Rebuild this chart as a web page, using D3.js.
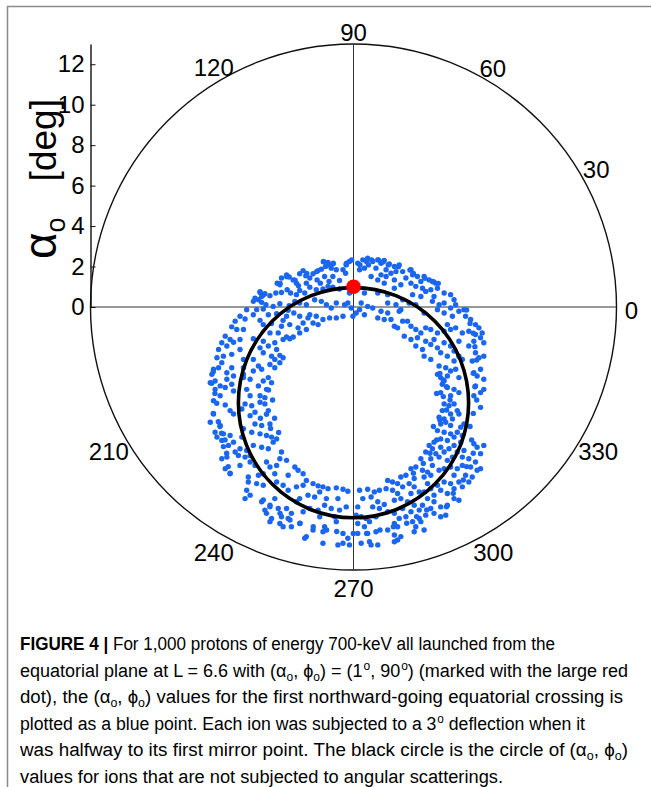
<!DOCTYPE html>
<html lang="en">
<head>
<meta charset="UTF-8">
<title>Figure 4</title>
<script src="https://cdn.jsdelivr.net/npm/d3@7"></script>
<style>
  body { margin: 0; background: #fff; }
  svg text { font-family: "Liberation Sans", Arial, sans-serif; fill: #000; }
</style>
</head>
<body>
<script>
// radial axis: alpha_o in degrees
var alphaMax = 13;
var alphaMajor = [0, 2, 4, 6, 8, 10, 12];
var alphaMinorStep = 0.5;
// azimuth labels phi_o (150 and 180 are hidden behind the axis in the original)
var angleLabels = [0, 30, 60, 90, 120, 210, 240, 270, 300, 330];

// launch point (large red dot)
var launch = { alpha: 1, phi: 90 };
// circle of unscattered ions: centre (x, y) and radius, in deg
var ring = { x: 0, y: -4.73, r: 5.69 };

// scattered ions, [alpha*cos(phi), alpha*sin(phi)] in deg
var ptsNW = [
  [-1.48,2.25],[-1.26,2.20],[-1.02,2.13],[-0.36,2.13],[-1.38,2.00],[-1.59,1.87],[-1.10,1.92],[-1.75,1.80],[-0.85,1.84],[-0.52,1.84],[-0.39,1.67],
  [-3.31,1.59],[-3.56,1.43],[-3.18,1.48],[-2.98,1.34],[-2.82,1.18],[-2.66,1.64],[-2.49,1.80],[-2.36,1.54],[-2.16,1.43],[-2.00,1.64],[-1.80,1.34],
  [-1.64,1.18],[-1.43,1.51],[-1.21,1.26],[-1.02,1.51],[-0.69,1.31],[-3.77,1.18],[-3.64,1.10],[-2.72,1.05],[-2.33,1.18],
  [-4.62,0.72],[-4.38,0.66],[-4.13,0.56],[-4.54,0.52],[-3.84,0.69],[-3.56,0.72],[-3.28,0.85],[-3.11,0.69],[-2.66,0.82],[-2.41,0.69],[-2.16,0.98],
  [-1.84,0.85],[-1.51,0.89],[-1.26,1.02],[-1.02,0.98],[-0.69,0.89],[-4.87,0.44],[-4.70,0.36],[-2.82,0.61],
  [-4.95,0.28],[-4.54,0.23],[-4.33,0.11],[-3.97,0.03],[-3.64,0.16],[-3.18,0.07],[-2.90,0.28],[-2.66,0.20],[-2.33,0.11],[-1.92,0.36],[-1.59,0.28],
  [-1.34,0.11],[-1.10,-0.05],[-0.85,0.20],[-0.44,0.11],[-5.28,-0.13],[-4.79,-0.13],[-4.46,-0.10],[-3.23,-0.16],
  [-5.61,-0.46],[-5.85,-0.70],[-5.36,-0.59],[-4.95,-0.38],[-4.21,-0.38],[-3.80,-0.33],[-3.31,-0.46],[-2.95,-0.30],[-2.66,-0.46],[-2.16,-0.38],
  [-1.84,-0.46],[-1.51,-0.62],[-1.18,-0.54],[-0.85,-0.54],[-0.52,-0.46],[-2.25,-0.54],[-4.62,-0.66],[-3.48,-0.66],
  [-6.02,-0.98],[-5.77,-1.11],[-5.44,-1.11],[-4.46,-0.87],[-4.05,-0.82],[-3.56,-0.95],[-3.15,-0.87],[-2.74,-1.03],[-2.49,-0.79],[-2.00,-0.79],
  [-1.75,-0.87],[-4.13,-1.28],[-3.72,-1.28],[-3.31,-1.48],[-2.98,-1.48],[-2.66,-1.28],[-2.33,-1.11],[-6.34,-1.44],[-6.10,-1.61],
  [-6.51,-1.77],[-6.26,-1.93],[-5.93,-1.74],[-5.61,-1.61],[-4.95,-1.57],[-4.46,-1.69],[-4.21,-1.93],[-3.89,-1.77],[-3.48,-1.61],[-3.15,-1.57],
  [-3.80,-2.10],[-6.67,-2.10],[-5.61,-2.10],[-4.62,-2.02],
  [-6.75,-2.51],[-6.43,-2.43],[-6.02,-2.34],[-6.51,-2.75],[-4.46,-2.26],[-4.05,-2.43],[-3.64,-2.39],[-3.89,-2.59],[-3.48,-2.51],[-4.95,-2.59],[-5.44,-2.59],
  [-6.92,-3.08],[-6.67,-3.00],[-7.00,-3.33],[-6.02,-3.00],[-5.44,-3.00],[-4.70,-2.92],[-4.54,-3.08],[-4.13,-2.84],[-3.89,-3.00],[-3.64,-2.75],
  [-4.95,-3.16],[-6.26,-3.25],[-5.93,-3.41],[-5.44,-3.33],
  [-7.08,-3.74],[-6.84,-3.66],[-6.59,-3.90],[-6.26,-3.57],[-6.02,-3.82],[-5.44,-3.49],[-5.11,-3.57],[-4.46,-3.66],[-4.21,-3.49],[-4.05,-3.74],
  [-6.84,-4.07],[-6.34,-3.98],[-5.93,-4.15],[-5.28,-4.07],[-4.70,-3.90],[-4.30,-4.07],[-4.62,-4.39],[-5.11,-4.39],[-4.38,-4.48],[-6.59,-4.39],
  [-1.49,2.24],[-1.24,2.08],[-1.00,2.16],[-0.34,2.16],[-0.09,2.32],[-4.62,0.76],[-4.46,0.59],[-3.63,1.17],[-3.30,1.50],[-2.89,1.33],
  [-2.31,1.66],[-1.82,1.75],[-6.93,-3.20],[-7.01,-3.77],[-6.85,-4.27],[-4.20,-4.10]
];
var ptsNE = [
  [-0.20,2.25],[0.21,2.16],[0.46,2.33],[0.70,2.41],[0.74,2.08],[0.95,2.25],[1.20,2.33],[1.36,2.16],[1.52,2.30],[1.77,2.13],[2.02,2.00],[2.26,2.08],
  [1.11,1.92],[1.61,1.84],[0.54,1.92],[0.30,1.84],[-0.36,2.08],
  [1.85,1.67],[2.10,1.75],[2.43,1.75],[2.84,1.84],[2.92,1.59],[3.16,1.51],[3.49,1.51],[3.74,1.34],[3.90,1.26],[4.07,1.18],[1.36,1.59],[1.61,1.51],
  [1.20,1.34],[2.02,1.34],[2.59,1.43],[3.33,1.26],[0.87,1.51],[1.52,1.18],
  [2.34,1.10],[2.84,1.18],[3.08,1.02],[3.41,0.93],[3.57,0.77],[3.82,0.85],[4.15,0.93],[4.48,0.69],[4.80,0.61],[4.97,0.36],[2.02,0.93],[1.20,0.69],
  [1.69,0.61],[2.92,0.61],[3.33,0.52],[3.98,0.52],[0.54,0.69],[-0.20,0.69],
  [2.43,0.36],[2.75,0.20],[3.08,0.11],[3.90,0.28],[4.23,0.11],[4.48,0.20],[4.80,-0.05],[5.05,0.11],[0.38,0.20],[0.70,0.03],[0.95,-0.05],[1.69,0.20],
  [2.10,0.11],[-0.28,0.20],[-0.11,-0.05],[0.30,-0.13],[2.34,-0.13],
  [1.36,-0.21],[1.69,-0.30],[2.26,-0.21],[4.15,-0.13],[4.48,-0.30],[4.89,-0.46],[5.21,-0.21],[5.46,-0.13],[5.54,-0.46],[5.79,-0.62],[6.03,-0.87],
  [0.54,-0.38],[1.20,-0.54],[1.52,-0.62],[1.85,-0.62],[2.43,-0.70],[2.67,-0.70],[3.49,-0.30],[-0.03,-0.46],[0.13,-0.30],
  [2.02,-0.95],[2.18,-1.03],[2.84,-0.95],[3.08,-1.11],[3.33,-1.28],[3.57,-1.03],[3.82,-1.11],[4.15,-1.28],[4.48,-1.20],[4.64,-0.87],[4.80,-1.11],
  [5.05,-1.03],[5.38,-1.28],[5.70,-1.20],[6.03,-1.36],[6.20,-1.03],[6.36,-1.28],
  [2.51,-1.44],[2.84,-1.61],[3.16,-1.52],[3.57,-1.69],[3.82,-1.85],[3.98,-1.61],[4.48,-1.77],[4.80,-1.93],[5.21,-1.69],[5.70,-1.93],[5.95,-1.69],
  [6.28,-1.52],[6.44,-1.77],[3.08,-1.93],[3.41,-2.10],[4.15,-2.02],[4.97,-2.18],
  [4.31,-2.26],[4.64,-2.43],[3.49,-2.43],[3.82,-2.59],[6.03,-2.26],[6.20,-2.51],[6.44,-2.43],[5.87,-2.67],[5.38,-2.59],[4.97,-2.67],[5.21,-2.43],
  [4.15,-3.33],[4.31,-3.49],[4.48,-3.66],[4.64,-3.41],[4.80,-3.16],[5.05,-3.08],[5.21,-3.49],[5.95,-3.25],[6.11,-3.41],[6.28,-3.08],[6.44,-3.57],
  [4.23,-2.92],[4.56,-3.00],
  [4.39,-3.82],[4.64,-3.98],[4.97,-4.07],[5.21,-4.23],[6.03,-3.90],[6.28,-4.23],[6.44,-4.07],[4.31,-4.23],[4.80,-4.39],[5.95,-4.39],
  [0.32,2.08],[0.65,2.24],[0.90,2.32],[1.23,2.32],[1.47,2.24],[1.72,2.08],[2.22,1.99],[2.79,1.83],[2.96,1.66],[3.53,1.42],[3.95,1.25],[4.19,1.17],
  [5.59,-0.15],[5.76,-0.81],[5.92,-1.30],[6.00,-1.96],[6.09,-2.62],[5.92,-3.28],[6.00,-3.94],[4.27,-3.28],[4.44,-3.61],[4.60,-3.94],[4.11,-4.27],
  [4.44,-4.43]
];
var ptsSW = [
  [-6.92,-4.63],[-6.34,-4.84],[-6.10,-5.12],[-5.93,-5.29],[-5.52,-5.04],[-5.36,-4.79],[-5.03,-4.88],[-4.87,-5.20],[-4.62,-4.71],[-4.38,-4.79],
  [-4.21,-5.12],[-5.11,-5.37],[-6.92,-5.29],[-7.08,-5.70],[-6.59,-5.86],[-6.84,-6.19],
  [-4.87,-5.78],[-4.54,-5.86],[-4.13,-5.78],[-5.44,-6.02],[-5.03,-6.19],[-4.62,-6.27],[-5.52,-6.43],[-4.30,-6.35],[-4.05,-6.43],[-6.43,-6.27],
  [-6.10,-6.35],[-6.75,-6.43],[-6.51,-6.60],[-5.93,-6.68],
  [-5.61,-7.01],[-5.28,-7.09],[-4.95,-6.84],[-4.54,-6.93],[-4.21,-7.01],[-3.97,-6.68],[-3.80,-6.52],[-5.69,-7.34],[-6.18,-6.84],[-5.85,-7.17],
  [-6.26,-7.42],[-6.51,-7.50],[-5.36,-7.42],[-5.11,-7.34],[-3.56,-7.17],[-3.64,-7.50],[-3.31,-7.58],
  [-6.34,-7.99],[-6.10,-8.24],[-5.61,-7.83],[-5.11,-7.66],[-4.87,-7.83],[-4.30,-7.66],[-4.13,-7.91],[-3.80,-7.83],[-2.90,-7.91],[-2.74,-8.07],
  [-2.49,-8.24],[-2.33,-8.57],[-3.23,-8.32],[-3.89,-8.24],[-5.20,-8.40],[-4.70,-8.32],[-4.46,-8.24],
  [-5.20,-8.65],[-5.28,-9.06],[-5.11,-9.30],[-4.79,-8.73],[-4.46,-8.81],[-3.80,-8.65],[-3.48,-8.81],[-3.23,-9.06],[-2.82,-8.89],[-2.49,-8.81],
  [-2.00,-8.73],[-1.75,-8.84],[-1.51,-8.89],[-1.26,-8.98],[-0.85,-8.94],[-0.52,-9.01],[-0.28,-9.11],[-2.25,-9.30],[-1.92,-9.39],[-1.67,-9.14],
  [-1.34,-9.47],[-0.77,-9.47],[-2.66,-9.47],
  [-5.36,-9.47],[-4.54,-9.63],[-4.38,-10.04],[-4.13,-9.80],[-3.89,-9.47],[-3.72,-9.96],[-3.31,-9.96],[-3.07,-10.20],[-2.82,-9.63],[-2.49,-10.12],
  [-2.16,-9.96],[-1.75,-10.04],[-1.43,-9.80],[-1.10,-9.96],[-0.69,-10.04],[-0.36,-9.88],[-4.30,-10.20],[-4.05,-10.45],[-3.56,-10.37],[-3.23,-10.45],
  [-4.13,-10.61],[-3.64,-10.70],[-3.48,-10.86],[-3.07,-10.86],[-2.66,-10.70],[-2.00,-11.02],[-1.51,-11.11],[-1.43,-10.86],[-0.85,-10.61],
  [-0.52,-11.19],[-2.33,-11.35],[-2.41,-11.43],[-1.51,-11.68],[-0.77,-11.76],[-0.52,-11.68],[-1.67,-10.37],[-0.93,-10.37],
  [-6.76,-4.76],[-6.93,-5.26],[-6.68,-5.67],[-6.60,-5.91],[-6.52,-6.24],[-6.35,-6.57],[-6.43,-6.90],[-6.27,-7.23],[-6.19,-7.89],[-6.10,-8.22],
  [-4.00,-4.60],[-4.30,-5.30],[-3.90,-5.50],[-4.60,-5.50],[-4.10,-6.00],[-3.70,-6.20],
  [-4.46,-9.54],[-4.13,-9.87],[-3.63,-10.20],[-3.14,-10.53],[-2.64,-10.69],[-1.99,-10.86],[-1.33,-11.02],[-0.83,-11.10],[-0.01,-11.19]
];
var ptsSE = [
  [4.48,-4.79],[4.72,-4.88],[4.97,-4.79],[5.13,-5.12],[4.39,-5.12],[4.80,-5.29],[5.21,-5.29],[4.23,-5.45],[4.48,-5.53],[6.28,-4.96],[4.89,-5.53],
  [4.31,-5.78],[4.56,-5.70],[4.80,-5.86],[5.30,-5.94],[5.46,-5.78],[4.15,-6.11],[4.48,-6.19],[4.80,-6.27],[5.13,-6.19],[5.38,-6.35],[4.31,-6.52],
  [4.64,-6.60],[4.97,-6.43],[3.98,-6.68],[5.30,-6.68],
  [3.74,-6.84],[3.90,-7.01],[3.57,-7.17],[4.07,-7.25],[4.31,-6.93],[4.48,-7.17],[4.72,-7.01],[4.97,-6.84],[5.13,-7.17],[5.46,-7.09],[5.95,-6.76],
  [6.11,-6.93],[6.44,-6.84],[3.33,-7.50],[3.82,-7.50],[4.23,-7.42],[4.64,-7.58],[4.89,-7.42],[5.38,-7.42],[5.70,-7.50],[6.03,-7.66],[6.28,-7.25],
  [2.84,-7.99],[3.08,-7.91],[3.41,-8.07],[3.66,-8.16],[3.90,-7.83],[4.23,-8.07],[4.48,-7.99],[4.80,-7.91],[5.13,-7.99],[5.38,-7.83],[5.79,-7.91],
  [6.11,-8.07],[6.28,-7.99],[2.34,-8.40],[2.59,-8.32],[3.00,-8.48],[3.49,-8.40],[3.82,-8.32],[4.97,-8.32],[5.54,-8.32],[5.87,-8.40],
  [1.69,-8.57],[1.93,-8.65],[2.18,-8.73],[2.43,-8.89],[2.75,-8.73],[3.00,-8.89],[3.25,-9.14],[3.66,-8.73],[3.82,-8.98],[4.15,-8.81],[4.48,-8.65],
  [4.80,-8.73],[5.21,-8.65],[5.38,-8.89],[5.70,-8.65],[4.31,-9.06],[4.64,-9.22],[4.97,-8.98],[0.30,-9.06],[0.70,-9.01],[1.03,-9.14],[1.28,-9.06],
  [1.61,-8.98],[1.93,-9.06],[2.18,-9.22],[2.84,-9.22],[3.49,-9.14],[3.98,-9.30],
  [0.46,-9.47],[0.87,-9.39],[1.20,-9.63],[1.52,-9.76],[2.02,-9.55],[2.34,-9.47],[2.67,-9.63],[3.00,-9.80],[3.41,-9.80],[3.66,-9.47],[3.98,-9.63],
  [4.31,-9.88],[4.64,-9.80],[4.97,-9.47],[5.21,-9.55],[0.21,-9.88],[0.95,-9.88],[1.28,-9.96],[1.69,-10.12],[2.43,-9.96],[2.84,-10.12],[3.25,-10.04],
  [3.82,-9.96],
  [0.13,-10.29],[0.38,-10.37],[0.62,-10.45],[1.11,-10.37],[2.02,-10.20],[2.26,-10.45],[2.59,-10.37],[2.92,-10.61],[3.25,-10.45],[3.57,-10.29],
  [3.98,-10.20],[4.31,-10.37],[4.56,-10.29],[0.21,-10.70],[0.54,-10.86],[0.79,-10.61],[2.02,-10.70],[2.18,-10.86],[3.08,-10.86],[3.33,-10.61],
  [0.21,-11.19],[0.70,-11.19],[1.11,-11.11],[1.69,-11.02],[2.02,-11.27],[2.34,-11.35],[3.00,-11.11],[3.49,-11.02],[0.38,-11.68],[0.79,-11.60],
  [0.87,-11.76],[1.20,-11.76],[2.02,-11.60],[2.18,-11.52],[-0.20,-11.76],[-0.28,-11.43],
  [6.09,-4.60],[5.92,-5.26],[5.76,-5.91],[5.84,-6.57],[5.92,-7.23],[5.59,-7.89],[5.43,-8.55],[4.93,-9.21],[4.60,-9.87],
  [4.77,-4.60],[4.60,-5.09],[4.27,-5.58],[3.95,-5.91],[4.11,-6.57],[3.78,-7.23],[3.45,-7.73],[2.96,-8.22],
  [0.65,-11.19],[1.31,-11.02],[1.97,-10.86],[2.63,-10.69],[3.12,-10.36],[3.62,-10.03]
];

// caption lines: [text, style]  b = bold, s = subscript, p = superscript
var caption = [
  [["FIGURE 4 | ", "b"], ["For 1,000 protons of energy 700-keV all launched from the", "n"]],
  [["equatorial plane at L = 6.6 with (α", "n"], ["o", "s"], [", ϕ", "n"], ["o", "s"], [") = (1", "n"], ["o", "p"], [", 90", "n"], ["o", "p"], [") (marked with the large red", "n"]],
  [["dot), the (α", "n"], ["o", "s"], [", ϕ", "n"], ["o", "s"], [") values for the first northward-going equatorial crossing is", "n"]],
  [["plotted as a blue point. Each ion was subjected to a 3", "n"], ["o", "p"], [" deflection when it", "n"]],
  [["was halfway to its first mirror point. The black circle is the circle of (α", "n"], ["o", "s"], [", ϕ", "n"], ["o", "s"], [")", "n"]],
  [["values for ions that are not subjected to angular scatterings.", "n"]]
];
var captionWidths = [535, 608, 603, 565, 608, 483];

var W = 651, H = 787;
var cx = 353.5, cy = 307, R = 263;

var svg = d3.select("body").append("svg").attr("width", W).attr("height", H);

// figure frame
svg.append("rect").attr("x", 7.5).attr("y", 6.5).attr("width", 700).attr("height", 900)
  .attr("fill", "none").attr("stroke", "#8a8a8a").attr("stroke-width", 1.5);

var x = d3.scaleLinear().domain([-alphaMax, alphaMax]).range([cx - R, cx + R]);
var y = d3.scaleLinear().domain([-alphaMax, alphaMax]).range([cy + R, cy - R]);
var rScale = d3.scaleLinear().domain([0, alphaMax]).range([0, R]);

var plot = svg.append("g");

// outer circle and cross hairs
plot.append("circle").attr("cx", x(0)).attr("cy", y(0)).attr("r", rScale(alphaMax))
  .attr("fill", "none").attr("stroke", "#111").attr("stroke-width", 1.4);
plot.append("line").attr("x1", x(-alphaMax)).attr("x2", x(alphaMax)).attr("y1", y(0)).attr("y2", y(0))
  .attr("stroke", "#333").attr("stroke-width", 1);
plot.append("line").attr("x1", x(0)).attr("x2", x(0)).attr("y1", y(alphaMax)).attr("y2", y(-alphaMax))
  .attr("stroke", "#333").attr("stroke-width", 1);

// scattered ions
var allPts = ptsNW.concat(ptsNE, ptsSW, ptsSE);
plot.selectAll("circle.ion").data(allPts).enter().append("circle")
  .attr("class", "ion")
  .attr("cx", d => x(d[0])).attr("cy", d => y(d[1])).attr("r", 2.7)
  .attr("fill", "#1a66f0");

// unscattered circle
plot.append("circle").attr("cx", x(ring.x)).attr("cy", y(ring.y)).attr("r", rScale(ring.r))
  .attr("fill", "none").attr("stroke", "#000").attr("stroke-width", 3.6);

// launch point
var rad = Math.PI / 180;
plot.append("circle")
  .attr("cx", x(launch.alpha * Math.cos(launch.phi * rad)))
  .attr("cy", y(launch.alpha * Math.sin(launch.phi * rad)))
  .attr("r", 7.3).attr("fill", "#ff0000");

// azimuth labels, pushed out a little more for wide labels near the sides
function labelR(d) {
  var digits = String(d).length;
  var c = Math.cos(d * rad);
  return R + 15 + 3 * (digits - 1) * c * c;
}
plot.selectAll("text.ang").data(angleLabels).enter().append("text")
  .attr("class", "ang")
  .attr("x", d => cx + labelR(d) * Math.cos(d * rad))
  .attr("y", d => cy + 3 - labelR(d) * Math.sin(d * rad))
  .attr("text-anchor", "middle").attr("dominant-baseline", "central")
  .style("font-size", "24px")
  .text(d => d);

// radial axis on the left
var yAxisScale = d3.scaleLinear().domain([0, alphaMax]).range([cy, cy - R]);
var axisG = svg.append("g").attr("transform", "translate(" + (cx - R) + ",0)");
axisG.call(d3.axisLeft(yAxisScale).tickValues(d3.range(0, alphaMax + 0.01, alphaMinorStep))
  .tickSize(-3).tickSizeOuter(0).tickFormat(""));
axisG.call(d3.axisLeft(yAxisScale).tickValues(alphaMajor).tickSize(-5).tickSizeOuter(0).tickPadding(6));
axisG.selectAll("path.domain").attr("stroke", "#111").attr("stroke-width", 1.4);
axisG.selectAll(".tick line").attr("stroke", "#111");
axisG.selectAll(".tick text").style("font-size", "24px").style("font-family", "Liberation Sans, Arial, sans-serif")
  .attr("fill", "#000");

// axis title, read bottom to top
var title = svg.append("text").attr("transform", "translate(56,259) rotate(-90)")
  .attr("text-anchor", "start").style("font-size", "37px");
title.append("tspan").style("font-size", "46px").text("α");
title.append("tspan").attr("dy", 9).style("font-size", "27px").text("o");
title.append("tspan").attr("dy", -9).attr("dx", 36).text("[deg]");

// caption
var capG = svg.append("g");
caption.forEach(function (line, i) {
  var t = capG.append("text").attr("x", 20).attr("y", 650 + i * 26.6)
    .attr("textLength", captionWidths[i]).attr("lengthAdjust", "spacingAndGlyphs")
    .style("font-size", "18px").attr("fill", "#222");
  var shift = 0;
  line.forEach(function (seg) {
    var s = t.append("tspan").text(seg[0]);
    var want = seg[1] === "s" ? 4 : seg[1] === "p" ? -7 : 0;
    if (want !== shift) s.attr("dy", want - shift);
    shift = want;
    if (seg[1] === "b") s.style("font-weight", "bold");
    if (seg[1] === "s" || seg[1] === "p") s.style("font-size", "12px");
    if (seg[1] === "p") s.attr("dx", 1);
  });
});
</script>
</body>
</html>
